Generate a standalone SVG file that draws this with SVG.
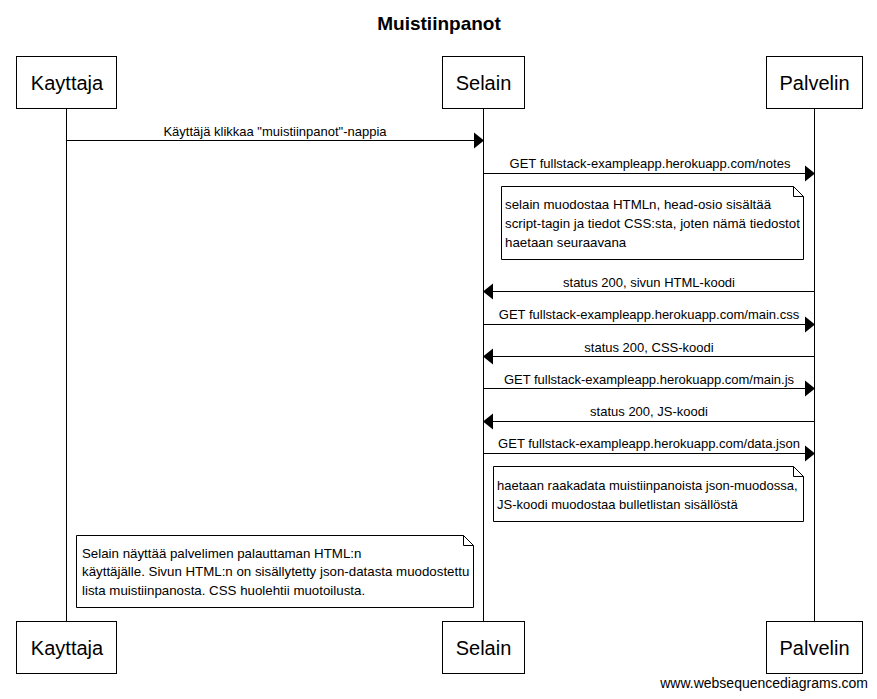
<svg xmlns="http://www.w3.org/2000/svg" width="877" height="699" viewBox="0 0 877 699">
<style>
text{font-family:"Liberation Sans",Arial,sans-serif;fill:#000}
.title{font-size:19px;font-weight:bold;text-anchor:middle}
.actor{font-size:20px;text-anchor:middle}
.msg{font-size:13px;text-anchor:middle}
.note{font-size:13.3px}
.note2{font-size:13px}
.wm{font-size:14px}
.box{fill:#fff;stroke:#000;stroke-width:1}
.life{stroke:#000;stroke-width:1}
.arrow{stroke:#000;stroke-width:1;fill:none}
.head{fill:#000}
</style>
<rect width="877" height="699" fill="#fff"/>
<text class="title" x="439" y="30">Muistiinpanot</text>
<g id="lifelines">
<line class="life" x1="66.5" y1="108" x2="66.5" y2="621"/>
<line class="life" x1="483.5" y1="108" x2="483.5" y2="621"/>
<line class="life" x1="814.5" y1="108" x2="814.5" y2="621"/>
</g>
<g id="Kayttaja">
<rect class="box" x="16.5" y="56.5" width="100" height="52"/>
<text class="actor" x="67" y="90">Kayttaja</text>
<rect class="box" x="16.5" y="621.5" width="100" height="52"/>
<text class="actor" x="67" y="655">Kayttaja</text>
</g>
<g id="Selain">
<rect class="box" x="442.5" y="56.5" width="82" height="52"/>
<text class="actor" x="483.5" y="90">Selain</text>
<rect class="box" x="442.5" y="621.5" width="82" height="52"/>
<text class="actor" x="483.5" y="655">Selain</text>
</g>
<g id="Palvelin">
<rect class="box" x="766.5" y="56.5" width="96" height="52"/>
<text class="actor" x="814.5" y="90">Palvelin</text>
<rect class="box" x="766.5" y="621.5" width="96" height="52"/>
<text class="actor" x="814.5" y="655">Palvelin</text>
</g>
<g id="connectors">
<line class="arrow" x1="66.5" y1="140.5" x2="475" y2="140.5"/>
<polygon class="head" points="484,140.5 474,132.5 474,148.5"/>
<text class="msg" x="275" y="136">Käyttäjä klikkaa "muistiinpanot"-nappia</text>

<line class="arrow" x1="483.5" y1="173.5" x2="806" y2="173.5"/>
<polygon class="head" points="815,173.5 805,165.5 805,181.5"/>
<text class="msg" x="650" y="168">GET fullstack-exampleapp.herokuapp.com/notes</text>

<line class="arrow" x1="814.5" y1="291.5" x2="492" y2="291.5"/>
<polygon class="head" points="483,291.5 493,283.5 493,299.5"/>
<text class="msg" x="649" y="287">status 200, sivun HTML-koodi</text>

<line class="arrow" x1="483.5" y1="324.5" x2="806" y2="324.5"/>
<polygon class="head" points="815,324.5 805,316.5 805,332.5"/>
<text class="msg" x="649" y="319">GET fullstack-exampleapp.herokuapp.com/main.css</text>

<line class="arrow" x1="814.5" y1="356.5" x2="492" y2="356.5"/>
<polygon class="head" points="483,356.5 493,348.5 493,364.5"/>
<text class="msg" x="649" y="352">status 200, CSS-koodi</text>

<line class="arrow" x1="483.5" y1="388.5" x2="806" y2="388.5"/>
<polygon class="head" points="815,388.5 805,380.5 805,396.5"/>
<text class="msg" x="649" y="384">GET fullstack-exampleapp.herokuapp.com/main.js</text>

<line class="arrow" x1="814.5" y1="421.5" x2="492" y2="421.5"/>
<polygon class="head" points="483,421.5 493,413.5 493,429.5"/>
<text class="msg" x="649" y="416">status 200, JS-koodi</text>

<line class="arrow" x1="483.5" y1="453.5" x2="806" y2="453.5"/>
<polygon class="head" points="815,453.5 805,445.5 805,461.5"/>
<text class="msg" x="649" y="448">GET fullstack-exampleapp.herokuapp.com/data.json</text>
</g>
<g id="note1">
<path class="box" d="M501.5,186.5 H793.5 L803.5,196.5 V259.5 H501.5 Z"/>
<path class="arrow" d="M793.5,186.5 V196.5 H803.5"/>
<text class="note" x="505" y="209">selain muodostaa HTMLn, head-osio sisältää</text>
<text class="note" x="505" y="228">script-tagin ja tiedot CSS:sta, joten nämä tiedostot</text>
<text class="note" x="505" y="246.5">haetaan seuraavana</text>
</g>
<g id="note2">
<path class="box" d="M493.5,466.5 H793.5 L803.5,476.5 V521.5 H493.5 Z"/>
<path class="arrow" d="M793.5,466.5 V476.5 H803.5"/>
<text class="note2" x="497" y="490">haetaan raakadata muistiinpanoista json-muodossa,</text>
<text class="note2" x="497" y="508.5">JS-koodi muodostaa bulletlistan sisällöstä</text>
</g>
<g id="note3">
<path class="box" d="M76.5,535.5 H463.5 L473.5,545.5 V607.5 H76.5 Z"/>
<path class="arrow" d="M463.5,535.5 V545.5 H473.5"/>
<text class="note" x="82" y="557.5">Selain näyttää palvelimen palauttaman HTML:n</text>
<text class="note" x="82" y="576">käyttäjälle. Sivun HTML:n on sisällytetty json-datasta muodostettu</text>
<text class="note" x="82" y="594.5">lista muistiinpanosta. CSS huolehtii muotoilusta.</text>
</g>
<text class="wm" x="868" y="688" text-anchor="end">www.websequencediagrams.com</text>
</svg>
